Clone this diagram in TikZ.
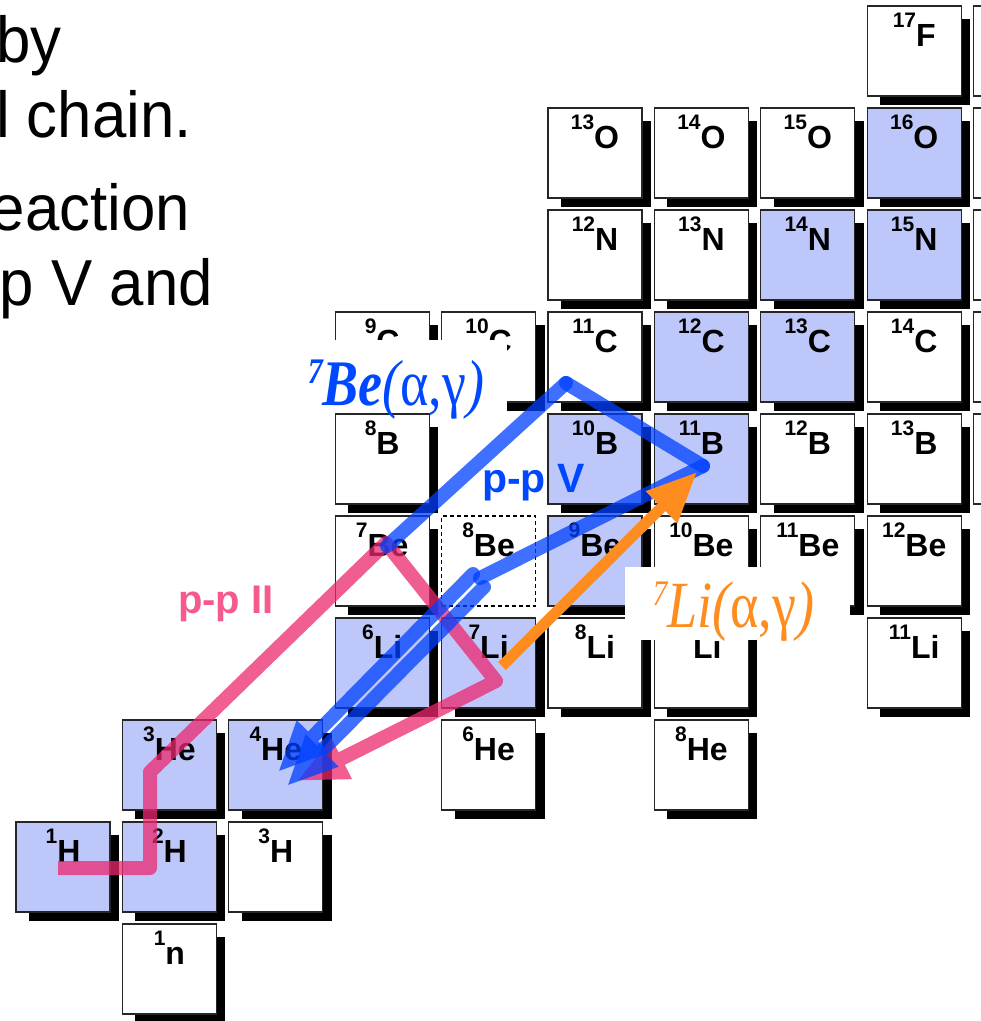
\documentclass[tikz,border=0pt]{standalone}
\usepackage{fontspec}
\setmainfont{Liberation Sans}
\newfontfamily\lserif{Liberation Serif}
\usetikzlibrary{arrows.meta}
\definecolor{stable}{RGB}{190,199,250}
\definecolor{bluel}{RGB}{0,64,255}
\definecolor{pinkl}{RGB}{235,40,110}
\definecolor{orangel}{RGB}{255,140,30}
\definecolor{bluetext}{RGB}{0,72,255}
\definecolor{pinktext}{RGB}{245,90,140}
\newcommand\iso[2]{{\fontsize{21}{21}\selectfont\raisebox{19pt}{#1}}{\fontsize{32}{32}\selectfont #2}}
\newcommand\nuc[5]{%
  \pgfmathsetmacro\cl{16+106.4*#2}%
  \pgfmathsetmacro\ct{924-102*#3}%
  \fill[black] (\cl+13,\ct+13) rectangle (\cl+103,\ct+99);
  \node[cellbox,fill=#4] (#1) at (\cl+47,\ct+45) {};
  \node[nuclab] (#1-l) at (\cl+47,\ct+40) {#5};
}
\tikzset{
  cellbox/.style={draw=black!85, line width=1.3pt, minimum width=94pt, minimum height=90pt, inner sep=0pt, outer sep=0pt},
  nuclab/.style={anchor=base, inner sep=0pt, font=\bfseries},
  bigtext/.style={anchor=base east, inner sep=0pt, font=\fontsize{65}{65}\selectfont},
  blueline/.style={draw=bluel, line width=14pt, line cap=round, line join=round},
  pinkline/.style={draw=pinkl, line width=14pt, line join=round},
  orangeline/.style={draw=orangel, line width=11pt},
  bighead/.style={-{Triangle[length=50pt,width=42pt]}},
  seethrough/.style={transparency group, opacity=0.75},
  lblbox/.style={fill=white, inner sep=0pt, outer sep=0pt}
}
\begin{document}
\begin{tikzpicture}[x=1pt,y=-1pt]
\useasboundingbox (0,0) rectangle (981,1021);
\clip (0,0) rectangle (981,1021);
% top-left text
\node[bigtext] (t1) at (62,62) {\scalebox{0.95}[1]{by}};
\node[bigtext] (t2) at (192,137) {\scalebox{0.95}[1]{l chain.}};
\node[bigtext] (t3) at (190,230) {\scalebox{0.95}[1]{eaction}};
\node[bigtext] (t4) at (213,305) {\scalebox{0.95}[1]{p V and}};
% cells
\nuc{n1}{1}{0}{white}{\iso{1}{n}}
\nuc{H1}{0}{1}{stable}{\iso{1}{H}}
\nuc{H2}{1}{1}{stable}{\iso{2}{H}}
\nuc{H3}{2}{1}{white}{\iso{3}{H}}
\nuc{He3}{1}{2}{stable}{\iso{3}{He}}
\nuc{He4}{2}{2}{stable}{\iso{4}{He}}
\nuc{He6}{4}{2}{white}{\iso{6}{He}}
\nuc{He8}{6}{2}{white}{\iso{8}{He}}
\nuc{Li6}{3}{3}{stable}{\iso{6}{Li}}
\nuc{Li7}{4}{3}{stable}{\iso{7}{Li}}
\nuc{Li8}{5}{3}{white}{\iso{8}{Li}}
\nuc{Li9}{6}{3}{white}{\iso{9}{Li}}
\nuc{Li11}{8}{3}{white}{\iso{11}{Li}}
\nuc{Be7}{3}{4}{white}{\iso{7}{Be}}
\node[draw=black, dash pattern=on 4pt off 3pt, line width=1.5pt, minimum width=94pt, minimum height=90pt, inner sep=0pt] (Be8) at (16+106.4*4+47,924-102*4+45) {};
\node[nuclab] (Be8-l) at (16+106.4*4+47,924-102*4+40) {\iso{8}{Be}};
\nuc{Be9}{5}{4}{stable}{\iso{9}{Be}}
\nuc{Be10}{6}{4}{white}{\iso{10}{Be}}
\nuc{Be11}{7}{4}{white}{\iso{11}{Be}}
\nuc{Be12}{8}{4}{white}{\iso{12}{Be}}
\nuc{B8}{3}{5}{white}{\iso{8}{B}}
\nuc{B10}{5}{5}{stable}{\iso{10}{B}}
\nuc{B11}{6}{5}{stable}{\iso{11}{B}}
\nuc{B12}{7}{5}{white}{\iso{12}{B}}
\nuc{B13}{8}{5}{white}{\iso{13}{B}}
\nuc{B14}{9}{5}{white}{}
\nuc{C9}{3}{6}{white}{\iso{9}{C}}
\nuc{C10}{4}{6}{white}{\iso{10}{C}}
\nuc{C11}{5}{6}{white}{\iso{11}{C}}
\nuc{C12}{6}{6}{stable}{\iso{12}{C}}
\nuc{C13}{7}{6}{stable}{\iso{13}{C}}
\nuc{C14}{8}{6}{white}{\iso{14}{C}}
\nuc{C15}{9}{6}{white}{}
\nuc{N12}{5}{7}{white}{\iso{12}{N}}
\nuc{N13}{6}{7}{white}{\iso{13}{N}}
\nuc{N14}{7}{7}{stable}{\iso{14}{N}}
\nuc{N15}{8}{7}{stable}{\iso{15}{N}}
\nuc{N16}{9}{7}{white}{}
\nuc{O13}{5}{8}{white}{\iso{13}{O}}
\nuc{O14}{6}{8}{white}{\iso{14}{O}}
\nuc{O15}{7}{8}{white}{\iso{15}{O}}
\nuc{O16}{8}{8}{stable}{\iso{16}{O}}
\nuc{O17}{9}{8}{white}{}
\nuc{F17}{8}{9}{white}{\iso{17}{F}}
\nuc{F18}{9}{9}{white}{}
% path points
\coordinate (p1) at (58,868);
\coordinate (p2) at (150,868);
\coordinate (p3) at (150,772);
\coordinate (p4) at (386,543);
\coordinate (p5) at (496,681);
\coordinate (p6) at (297,781);
\coordinate (b1) at (387,546);
\coordinate (b2) at (566,383);
\coordinate (b3) at (703,466);
\coordinate (b4) at (480,578);
\coordinate (b5) at (473,574);
\coordinate (b6) at (278,772);
\coordinate (b7) at (484,587);
\coordinate (b8) at (287,786);
\coordinate (o1) at (502,666);
\coordinate (o2) at (697,472);
% pink p-p II
\begin{scope}[seethrough]
\draw[pinkline, bighead] (p1) -- (p2) -- (p3) -- (p4) -- (p5) -- (p6);
\end{scope}
% blue p-p V
\begin{scope}[seethrough]\draw[blueline] (b1) -- (b2);\end{scope}
\begin{scope}[seethrough]\draw[blueline] (b2) -- (b3);\end{scope}
\begin{scope}[seethrough]\draw[blueline] (b3) -- (b4);\end{scope}
\begin{scope}[seethrough]\draw[blueline, bighead] (b5) -- (b6);\end{scope}
\begin{scope}[seethrough]\draw[blueline, bighead] (b7) -- (b8);\end{scope}
% orange
\draw[orangeline, bighead] (o1) -- (o2);
% labels
\node[lblbox, minimum width=210pt, minimum height=72pt] (beBox) at (402,376) {};
\node[anchor=base, inner sep=0pt, text=bluetext] (beLbl) at (396,405)
  {\scalebox{0.83}[1]{\fontsize{65}{65}\selectfont\lserif\raisebox{22pt}{\fontsize{36}{36}\selectfont\bfseries\itshape 7}{\bfseries\itshape Be}{\itshape(}α,γ{\itshape)}}};
\node[lblbox, minimum width=225pt, minimum height=73pt] (liBox) at (737.5,603.5) {};
\node[anchor=base, inner sep=0pt, text=orangel] (liLbl) at (733.5,627)
  {\scalebox{0.82}[1]{\fontsize{66}{66}\selectfont\lserif\raisebox{22pt}{\fontsize{36}{36}\selectfont\itshape 7}{\itshape Li}{\itshape(}α,γ{\itshape)}}};
\node[anchor=base west, inner sep=0pt, text=bluetext, font=\bfseries\fontsize{41}{41}\selectfont] (ppV) at (482,492) {p-p V};
\node[anchor=base west, inner sep=0pt, text=pinktext, font=\bfseries\fontsize{40}{40}\selectfont] (ppII) at (178,613) {p-p II};
\end{tikzpicture}
\end{document}
